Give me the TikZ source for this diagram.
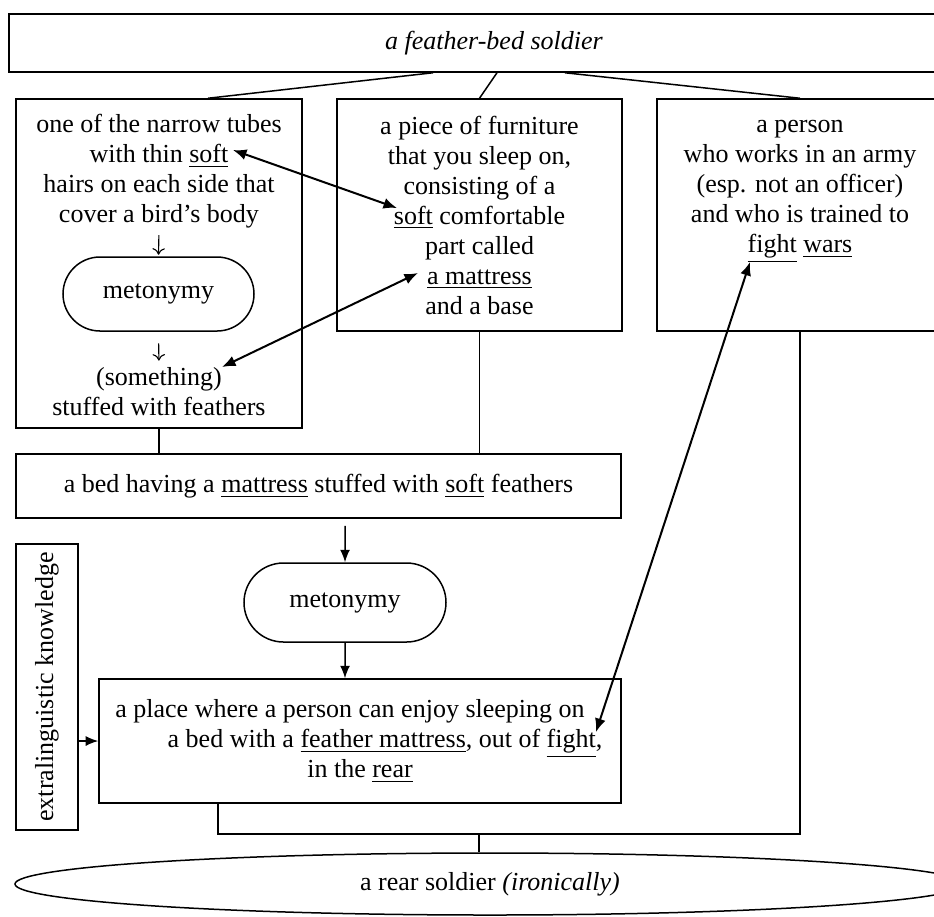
\documentclass[tikz,border=0pt]{standalone}
\usepackage{fontspec}
\setmainfont{Liberation Serif}
\usetikzlibrary{positioning,shapes,arrows.meta}

\begin{document}
\begin{tikzpicture}[x=0.4pt,y=-0.4pt,line width=0.6pt,
	font=\fontsize{10.4}{12}\selectfont,
	box/.style={draw,rectangle,inner sep=0pt,align=center},
	meto/.style={draw,rounded rectangle,minimum height=29.6pt,inner sep=0pt},
	txt/.style={align=center,inner sep=0pt},
	tip/.style={-{Latex[length=5pt,width=4pt]}},
	both/.style={{Latex[length=5.4pt,width=4.4pt]}-{Latex[length=5.4pt,width=4.4pt]},line width=0.8pt},
	small/.style={-{To[length=2.6pt,width=5pt]},line width=0.45pt}]
	\useasboundingbox (0,0) rectangle (934,916);
	\clip (0,0) rectangle (934,916);

	\node[box,minimum width=388pt,minimum height=23.2pt] (title) at (494,43) {\textit{a feather-bed soldier}};

	\node[box,minimum width=114.4pt,minimum height=131.6pt] (feather) at (159,263.5) {};
	\node[txt] (featherdef) at (159,171) {one of the narrow tubes\\with thin \underline{soft}\\hairs on each side that\\cover a bird’s body};
	\node[meto,minimum width=76.4pt] (meto1) at (158.5,294) {metonymy};
	\node[txt] (stuffed) at (159,392) {(something)\\stuffed with feathers};
	\draw[small,shorten <=2.6pt,shorten >=0.6pt] (featherdef.south) -- (meto1.north);
	\draw[small,shorten <=4.6pt,shorten >=2.6pt] (meto1.south) -- (stuffed.north);

	\node[box,minimum width=114pt,minimum height=92.8pt] (furniture) at (479.5,215) {a piece of furniture\\that you sleep on,\\consisting of a\\\underline{soft} comfortable\\part called\\\underline{a mattress}\\and a base};

	\node[box,minimum width=114.4pt,minimum height=92.8pt] (soldier) at (800,215) {};
	\node[txt] (soldierdef) at (800,192) {a person\\who works in an army\\(esp. not an officer)\\and who is trained to\\\underline{fight} \underline{wars}};

	\draw ([xshift=-24.4pt]title.south) -- ([xshift=19.6pt]feather.north);
	\draw ([xshift=1.2pt]title.south) -- (furniture.north);
	\draw ([xshift=28.4pt]title.south) -- (soldier.north);

	\node[box,minimum width=242pt,minimum height=25.6pt] (bed) at (318.5,486) {a bed having a \underline{mattress} stuffed with \underline{soft} feathers};
	\draw (feather.south) -- (feather.south |- bed.north);
	\draw (furniture.south) -- (furniture.south |- bed.north);

	\node[meto,minimum width=80.8pt,minimum height=31.6pt] (meto2) at (345,602.5) {metonymy};
	\node[box,minimum width=208.8pt,minimum height=49.6pt] (place) at (360,741) {a place where a person can enjoy sleeping on\hspace*{8pt}\\\hspace*{20pt}a bed with a \underline{feather mattress}, out of \underline{fight},\\in the \underline{rear}};
	\node[box,rotate=90,minimum width=114.4pt,minimum height=24.8pt] (extra) at (47,687) {extralinguistic knowledge};
	\draw[tip,shorten <=2.8pt] (bed.south -| meto2) -- (meto2);
	\draw[tip] (meto2) -- (meto2.south |- place.north);
	\draw[tip] (extra.south |- place.west) -- (place.west);

	\node[draw,ellipse,minimum width=380pt,minimum height=24.8pt,inner sep=0pt] (rear) at (490,884) {a rear soldier \textit{(ironically)}};
	\coordinate (join) at (479,834);
	\draw (place.south -| 218,0) |- (join) -| (soldier.south);
	\draw (join) -- (join |- rear.north);

	\coordinate (softL) at (233,150);
	\coordinate (softM) at (397,208);
	\coordinate (smth) at (222,367);
	\coordinate (mattr) at (418,273);
	\coordinate (fightS) at (750,262);
	\coordinate (fightP) at (596,732);
	\draw[both] (softL) -- (softM);
	\draw[both] (smth) -- (mattr);
	\draw[both] (fightS) -- (fightP);
\end{tikzpicture}
\end{document}
